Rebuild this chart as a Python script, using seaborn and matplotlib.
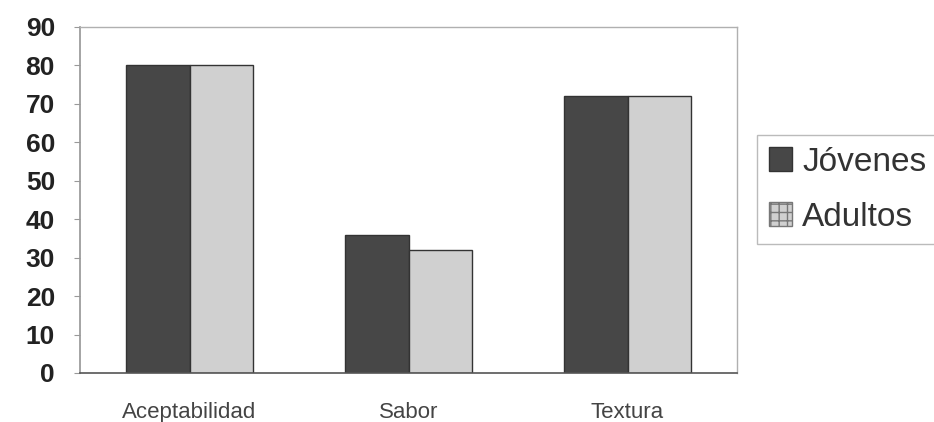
import matplotlib
matplotlib.use("Agg")
import matplotlib.pyplot as plt
import seaborn as sns
import pandas as pd

categories = ["Aceptabilidad", "Sabor", "Textura"]
jovenes = [80, 36, 72]
adultos = [80, 32, 72]
series_names = ["Jóvenes", "Adultos"]
y_ticks = [0, 10, 20, 30, 40, 50, 60, 70, 80, 90]

rows = []
for c, v in zip(categories, jovenes):
    rows.append({"cat": c, "grupo": series_names[0], "valor": v})
for c, v in zip(categories, adultos):
    rows.append({"cat": c, "grupo": series_names[1], "valor": v})
df = pd.DataFrame(rows)

sns.set_theme(style="white")
plt.rcParams["font.family"] = ["Liberation Sans", "DejaVu Sans"]

fig = plt.figure(figsize=(9.34, 4.22), dpi=100)
ax = fig.add_axes([80 / 934, 49 / 422, 657 / 934, 346 / 422])

sns.barplot(data=df, x="cat", y="valor", hue="grupo", order=categories,
            hue_order=series_names, palette=["#474747", "#d0d0d0"],
            width=0.58, gap=0, edgecolor="#333333", linewidth=1.0,
            errorbar=None, ax=ax, legend=True)

ax.set_xlim(-0.5, 2.5)
ax.set_ylim(0, 90)
ax.set_yticks(y_ticks)
ax.set_xlabel("")
ax.set_ylabel("")

for side in ["top", "right"]:
    ax.spines[side].set_color("#b0b0b0")
    ax.spines[side].set_linewidth(1.0)
ax.spines["left"].set_color("#999999")
ax.spines["bottom"].set_color("#555555")
ax.spines["bottom"].set_linewidth(1.2)

ax.tick_params(axis="y", which="major", length=4, width=0.8, color="#999999",
               labelsize=19, labelcolor="#222222", pad=14, left=True)
for t in ax.get_yticklabels():
    t.set_fontweight("bold")
ax.tick_params(axis="x", length=0, labelsize=16, labelcolor="#444444", pad=21)

leg = ax.get_legend()
handles = leg.legend_handles
labels = [t.get_text() for t in leg.get_texts()]
leg.remove()
lg = fig.legend(handles, labels, loc="upper left",
                bbox_to_anchor=(757 / 934, 1 - 135 / 422),
                bbox_transform=fig.transFigure, borderaxespad=0,
                fontsize=24, frameon=True, fancybox=False,
                handlelength=0.7, handleheight=0.7, handletextpad=0.3,
                labelspacing=0.72, borderpad=0.35)
lg.get_frame().set_edgecolor("#aaaaaa")
lg.get_frame().set_linewidth(1.0)
for t in lg.get_texts():
    t.set_color("#333333")
lg.legend_handles[1].set_hatch("++")
lg.legend_handles[1].set_edgecolor("#777777")

fig.savefig("out.png", dpi=100, facecolor="white")
